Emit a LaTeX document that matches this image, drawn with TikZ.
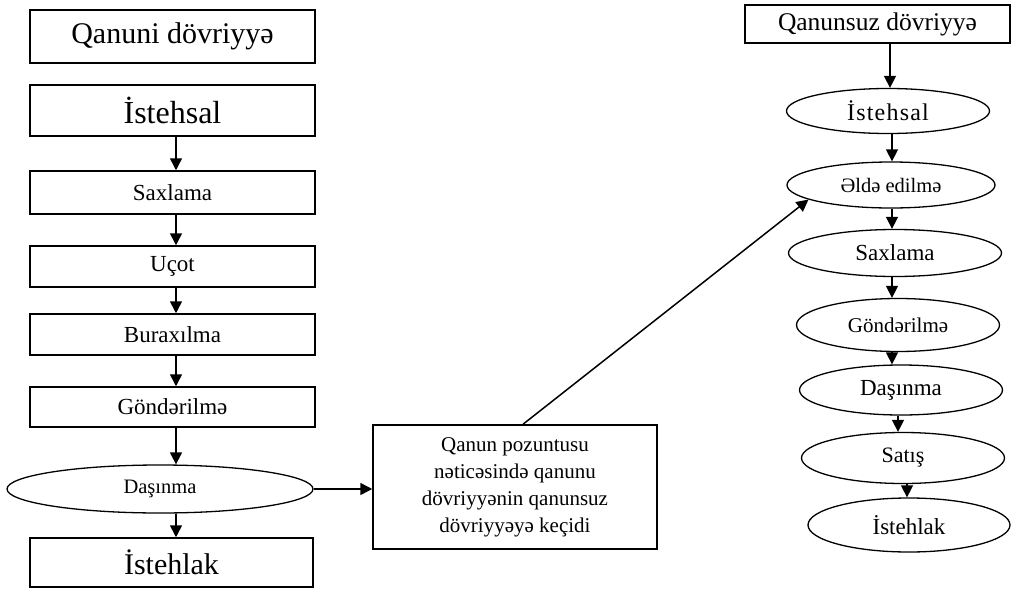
\documentclass[tikz,border=0pt]{standalone}
\usepackage{fontspec}
\setmainfont{Liberation Serif}
\usetikzlibrary{arrows.meta,shapes.geometric}
\begin{document}
\begin{tikzpicture}[x=1pt,y=-1pt,
  box/.style={draw,line width=1.5pt,rectangle,inner sep=0pt},
  oval/.style={draw,line width=1.3pt,ellipse,inner sep=0pt},
  arr/.style={line width=1.5pt,-{Triangle[width=12pt,length=12pt]}},
  fs/.style={font=\fontsize{#1}{#1}\selectfont}]
\fill[white] (0,0) rectangle (1012,589);
\useasboundingbox (0,0) rectangle (1012,589);
% left column
\node[box,fs=30,minimum width=285pt,minimum height=53pt] (q1) at (172.5,36.5) {Qanuni dövriyyə};
\node[box,fs=32,minimum width=285pt,minimum height=51pt] (L1) at (172.5,110.5) {İstehsal};
\node[box,fs=23,minimum width=285pt,minimum height=43pt] (L2) at (172.5,192.5) {Saxlama};
\node[box,fs=23,minimum width=285pt,minimum height=41pt] (L3) at (172.5,266.5) {Uçot};
\node[box,fs=23,minimum width=285pt,minimum height=41pt] (L4) at (172.5,334.5) {Buraxılma};
\node[box,fs=23,minimum width=285pt,minimum height=40pt] (L5) at (172.5,407) {Göndərilmə};
\node[oval,fs=20.5,minimum width=306pt,minimum height=48pt] (L6) at (160,489) {Daşınma};
\node[box,fs=30,minimum width=283pt,minimum height=49pt] (L7) at (171.5,562.5) {İstehlak};
\draw[arr] (L1.south -| 176,0) -- (L2.north -| 176,0);
\draw[arr] (L2.south -| 176,0) -- (L3.north -| 176,0);
\draw[arr] (L3.south -| 176,0) -- (L4.north -| 176,0);
\draw[arr] (L4.south -| 176,0) -- (L5.north -| 176,0);
\draw[arr] (L5.south -| 176,0) -- (L6.north -| 176,0);
\draw[arr] (L6.south -| 176,0) -- (L7.north -| 176,0);
% middle box
\node[box,align=center,font=\fontsize{21}{27}\selectfont,minimum width=284pt,minimum height=124pt] (M) at (515,487)
  {Qanun pozuntusu\\nəticəsində qanunu\\dövriyyənin qanunsuz\\dövriyyəyə keçidi};
\draw[arr] (L6.east) -- (M.west |- L6.east);
% right column
\node[box,fs=25.5,minimum width=265pt,minimum height=38pt] (R0) at (877.5,24) {Qanunsuz dövriyyə};
\node[oval,minimum width=203pt,minimum height=45pt] (R1) at (888,111) {\fontsize{24}{24}\selectfont\addfontfeatures{LetterSpace=5}İstehsal};
\node[oval,fs=20.5,minimum width=208pt,minimum height=46pt] (R2) at (891,185) {Əldə edilmə};
\node[oval,fs=23,minimum width=213pt,minimum height=47pt] (R3) at (895,253) {Saxlama};
\node[oval,fs=21,minimum width=203pt,minimum height=53pt] (R4) at (898,325) {Göndərilmə};
\node[oval,fs=23,minimum width=203pt,minimum height=50pt] (R5) at (901,390) {Daşınma};
\node[oval,fs=22,minimum width=203pt,minimum height=51pt] (R6) at (903,458) {Satış};
\node[oval,fs=23,minimum width=202pt,minimum height=54pt] (R7) at (909,525) {İstehlak};
\draw[arr] (R0.south -| 890,0) -- (R1.north -| 890,0);
\draw[arr] (R1.south -| 892,0) -- (R2.north -| 892,0);
\draw[arr] (R2.south -| 892,0) -- (R3.north -| 892,0);
\draw[arr] (R3.south -| 892,0) -- (R4.north -| 892,0);
\draw[arr] (R4.south -| 892,0) -- (R5.north -| 892,0);
\draw[arr] (R5.south -| 898,0) -- (R6.north -| 898,0);
\draw[arr] (R6.south -| 907,0) -- (R7.north -| 907,0);
% transition arrow
\draw[arr] ([xshift=8pt]M.north) -- (R2.190);
\end{tikzpicture}
\end{document}
